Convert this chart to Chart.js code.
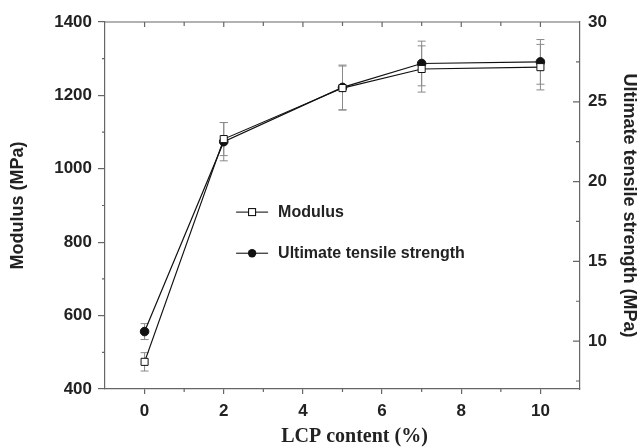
<!DOCTYPE html>
<html>
<head>
<meta charset="utf-8">
<script src="https://cdn.jsdelivr.net/npm/chart.js@4"></script>
<style>
html, body { margin: 0; padding: 0; background: #fff; }
</style>
</head>
<body>
<canvas id="chart" width="640" height="448"></canvas>
<script>
// LCP content (%) on x
const lcp = [0, 2, 5, 7, 10];
// modulus (MPa), left axis
const modulus = [474, 1081, 1220, 1272, 1277];
const modulusErr = [25, 45, 60, 63, 62];
// ultimate tensile strength (MPa), right axis
const uts = [10.6, 22.5, 25.9, 27.4, 27.5];
const utsErr = [0.5, 1.2, 1.4, 1.4, 1.4];

const xTicks = [0, 2, 4, 6, 8, 10];
const yTicks = [400, 600, 800, 1000, 1200, 1400];
const y1Ticks = [10, 15, 20, 25, 30];

const axisColor = '#666';
const textColor = '#222';
const sans = "'Liberation Sans', Arial, sans-serif";
const tickFont = { family: sans, size: 17, weight: 'bold' };

// error bars, behind the markers
const errorBars = {
  id: 'errorBars',
  beforeDatasetsDraw(chart) {
    const ctx = chart.ctx;
    const errs = [modulusErr, utsErr];
    ctx.save();
    ctx.strokeStyle = '#8a8a8a';
    ctx.lineWidth = 1;
    chart.data.datasets.forEach((ds, d) => {
      const meta = chart.getDatasetMeta(d);
      const ys = chart.scales[meta.yAxisID];
      ds.data.forEach((p, i) => {
        const x = chart.scales.x.getPixelForValue(p.x);
        const top = ys.getPixelForValue(p.y + errs[d][i]);
        const bot = ys.getPixelForValue(p.y - errs[d][i]);
        ctx.beginPath();
        ctx.moveTo(x, top); ctx.lineTo(x, bot);
        ctx.moveTo(x - 4, top); ctx.lineTo(x + 4, top);
        ctx.moveTo(x - 4, bot); ctx.lineTo(x + 4, bot);
        ctx.stroke();
      });
    });
    ctx.restore();
  }
};

// top border, minor ticks, inward ticks, legend
const frame = {
  id: 'frame',
  afterDraw(chart) {
    const ctx = chart.ctx;
    const a = chart.chartArea;
    const xs = chart.scales.x, ys = chart.scales.y, y1 = chart.scales.y1;
    ctx.save();
    ctx.strokeStyle = axisColor;
    ctx.lineWidth = 1.2;
    ctx.beginPath();
    ctx.moveTo(a.left, a.top); ctx.lineTo(a.right, a.top);
    for (let v = 0; v <= 10; v++) {
      const px = xs.getPixelForValue(v);
      if (v % 2) { ctx.moveTo(px, a.bottom); ctx.lineTo(px, a.bottom + 3); }
      ctx.moveTo(px, a.top); ctx.lineTo(px, a.top + (v % 2 ? 4 : 5));
    }
    for (let v = 500; v < 1400; v += 200) {
      const py = ys.getPixelForValue(v);
      ctx.moveTo(a.left, py); ctx.lineTo(a.left - 3, py);
    }
    for (let v = 7.5; v < 30; v += 2.5) {
      const py = y1.getPixelForValue(v);
      ctx.moveTo(a.right, py); ctx.lineTo(a.right - (v % 5 ? 4 : 7), py);
    }
    ctx.stroke();

    // x axis title, sits a little right of centre in the original
    ctx.font = "bold 20px 'Liberation Serif', 'Times New Roman', serif";
    ctx.fillStyle = textColor;
    ctx.textAlign = 'center';
    ctx.textBaseline = 'middle';
    ctx.fillText('LCP content (%)', (a.left + a.right) / 2 + 12, 437);

    // legend
    const lx = a.left + 0.276 * (a.right - a.left);
    const rows = [a.top + 0.518 * (a.bottom - a.top), a.top + 0.63 * (a.bottom - a.top)];
    ctx.font = 'bold 16px ' + sans;
    ctx.textAlign = 'left';
    chart.data.datasets.forEach((ds, d) => {
      const y = rows[d];
      ctx.strokeStyle = '#000';
      ctx.lineWidth = 1;
      ctx.beginPath();
      ctx.moveTo(lx, y); ctx.lineTo(lx + 32, y);
      ctx.stroke();
      if (d === 0) {
        ctx.fillStyle = '#fff';
        ctx.fillRect(lx + 12.5, y - 3.5, 7, 7);
        ctx.strokeRect(lx + 12.5, y - 3.5, 7, 7);
      } else {
        ctx.fillStyle = '#111';
        ctx.beginPath();
        ctx.arc(lx + 16, y, 4.2, 0, Math.PI * 2);
        ctx.fill();
      }
      ctx.fillStyle = textColor;
      ctx.fillText(ds.label, lx + 42, y);
    });
    ctx.restore();
  }
};

const ctx = document.getElementById('chart').getContext('2d');
new Chart(ctx, {
  type: 'line',
  data: {
    datasets: [{
      label: 'Modulus',
      data: lcp.map((x, i) => ({ x: x, y: modulus[i] })),
      yAxisID: 'y',
      borderColor: '#111',
      borderWidth: 1.2,
      pointStyle: 'rect',
      pointRadius: 5,
      pointBackgroundColor: '#fff',
      pointBorderColor: '#111',
      pointBorderWidth: 1,
      tension: 0
    }, {
      label: 'Ultimate tensile strength',
      data: lcp.map((x, i) => ({ x: x, y: uts[i] })),
      yAxisID: 'y1',
      borderColor: '#111',
      borderWidth: 1.2,
      pointStyle: 'circle',
      pointRadius: 4.3,
      pointBackgroundColor: '#111',
      pointBorderColor: '#111',
      pointBorderWidth: 1,
      tension: 0
    }]
  },
  options: {
    responsive: false,
    animation: false,
    layout: { padding: { top: 22, left: 0, right: 0, bottom: 0 } },
    plugins: { legend: { display: false }, tooltip: { enabled: false } },
    scales: {
      x: {
        type: 'linear',
        min: -1, max: 11,
        afterBuildTicks: s => { s.ticks = xTicks.map(v => ({ value: v })); },
        afterFit: s => { s.height = 59; },
        grid: { drawOnChartArea: false, tickLength: 5, color: axisColor, lineWidth: 1.2 },
        border: { color: axisColor, width: 1.2 },
        ticks: { color: textColor, padding: 7, font: tickFont, callback: v => String(v) }
      },
      y: {
        position: 'left',
        min: 400, max: 1400,
        afterBuildTicks: s => { s.ticks = yTicks.map(v => ({ value: v })); },
        afterFit: s => { s.width = 105; },
        grid: { drawOnChartArea: false, tickLength: 7, color: axisColor, lineWidth: 1.2 },
        border: { color: axisColor, width: 1.2 },
        ticks: { color: textColor, padding: 6, font: tickFont, callback: v => String(v) },
        title: {
          display: true, text: 'Modulus (MPa)', color: textColor,
          padding: { top: 7, bottom: 0 },
          font: { family: sans, size: 18, weight: 'bold' }
        }
      },
      y1: {
        position: 'right',
        min: 7, max: 30,
        afterBuildTicks: s => { s.ticks = y1Ticks.map(v => ({ value: v })); },
        afterFit: s => { s.width = 60; },
        grid: { display: false, drawTicks: false },
        border: { display: true, color: axisColor, width: 1.2 },
        ticks: { color: textColor, padding: 8, font: tickFont, callback: v => String(v) },
        title: {
          display: true, text: 'Ultimate tensile strength (MPa)', color: textColor,
          padding: { top: 0, bottom: 0 },
          font: { family: sans, size: 18, weight: 'bold' }
        }
      }
    }
  },
  plugins: [errorBars, frame]
});
</script>
</body>
</html>
